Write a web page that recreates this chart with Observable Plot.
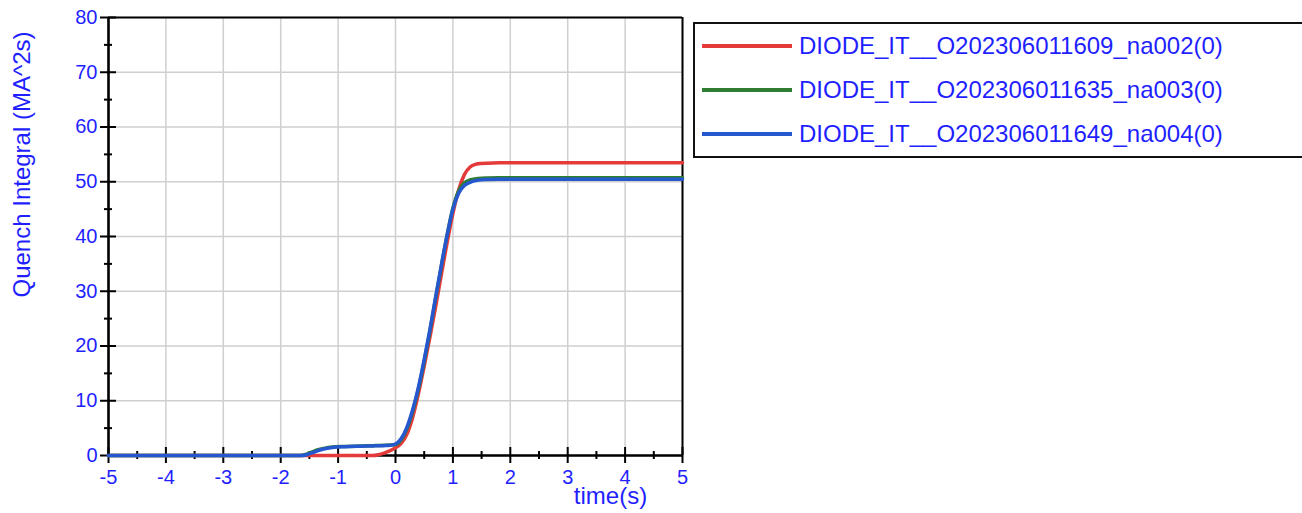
<!DOCTYPE html>
<html>
<head>
<meta charset="utf-8">
<script src="https://cdn.jsdelivr.net/npm/d3@7"></script>
<script src="https://cdn.jsdelivr.net/npm/@observablehq/plot@0.6"></script>
<style>
  html, body { margin: 0; padding: 0; background: #fff; width: 1302px; height: 513px; overflow: hidden; }
  #chart { position: relative; width: 1302px; height: 513px; font-family: "Liberation Sans", Arial, sans-serif; }
  .legend {
    position: absolute; left: 693px; top: 22px; width: 640px;
    border: 2px solid #111; background: #fff;
  }
  .legend .row { display: flex; align-items: center; height: 44px; }
  .legend .swatch { width: 90px; height: 4px; margin-left: 7px; margin-right: 7px; }
  .legend .name { font-size: 24px; color: #1f1fff; white-space: nowrap; }
</style>
</head>
<body>
<div id="chart"></div>
<script>
// Quench integral traces of the three diode runs
const time  = [-5, -1.65, -1.55, -1.45, -1.35, -1.25, -1.1, -0.9, -0.6, -0.4, -0.3, -0.2, -0.1, 0, 0.1, 0.2, 0.3, 0.4, 0.5, 0.6, 0.7, 0.8, 0.9, 1.0, 1.1, 1.2, 1.3, 1.4, 1.5, 1.6, 1.8, 2.0, 5];
const na002 = [0, 0, 0, 0, 0, 0, 0, 0, 0, 0, 0.15, 0.45, 0.85, 1.4, 2.2, 3.9, 7.0, 11.3, 16.3, 21.6, 27.2, 33.1, 38.9, 44.2, 48.5, 51.3, 52.7, 53.2, 53.35, 53.4, 53.45, 53.45, 53.45];
const na003 = [0, 0, 0.25, 0.65, 1.05, 1.3, 1.55, 1.65, 1.75, 1.8, 1.82, 1.85, 1.9, 2.0, 2.9, 4.9, 8.1, 12.2, 17.2, 22.8, 28.8, 34.7, 40.3, 45.2, 48.3, 49.8, 50.35, 50.55, 50.65, 50.7, 50.75, 50.75, 50.75];
const na004 = [0, 0, 0.15, 0.5, 0.9, 1.2, 1.45, 1.6, 1.7, 1.75, 1.78, 1.8, 1.85, 2.1, 3.1, 5.2, 8.4, 12.5, 17.5, 23.0, 29.0, 34.8, 40.3, 45.0, 47.9, 49.3, 49.9, 50.2, 50.35, 50.4, 50.45, 50.45, 50.45];

const seriesNames  = ["DIODE_IT__O202306011609_na002(0)", "DIODE_IT__O202306011635_na003(0)", "DIODE_IT__O202306011649_na004(0)"];
const seriesValues = [na002, na003, na004];
const seriesColors = ["#e53a3a", "#2e7d32", "#2557cf"];

const xDomain = [-5, 5];
const yDomain = [0, 80];
const xMajor = [-5, -4, -3, -2, -1, 0, 1, 2, 3, 4, 5];
const xMinor = [-4.5, -3.5, -2.5, -1.5, -0.5, 0.5, 1.5, 2.5, 3.5, 4.5];
const yMajor = [0, 10, 20, 30, 40, 50, 60, 70, 80];
const yMinor = [5, 15, 25, 35, 45, 55, 65, 75];

const xTitle = "time(s)";
const yTitle = "Quench Integral (MA^2s)";

const textBlue = "#1f1fff";
const fontFamily = '"Liberation Sans", Arial, sans-serif';

const rows = seriesNames.flatMap((name, s) =>
  time.map((t, i) => ({name, t, v: seriesValues[s][i]}))
);

const chart = Plot.plot({
  width: 1302,
  height: 513,
  marginLeft: 108,
  marginRight: 620,
  marginTop: 17,
  marginBottom: 58,
  style: {fontFamily, background: "#fff", overflow: "visible"},
  x: {domain: xDomain},
  y: {domain: yDomain},
  color: {domain: seriesNames, range: seriesColors},
  marks: [
    Plot.gridX(xMajor, {stroke: "#cfcfcf", strokeOpacity: 1, strokeWidth: 1.5}),
    Plot.gridY(yMajor, {stroke: "#cfcfcf", strokeOpacity: 1, strokeWidth: 1.5}),
    // frame top and right
    Plot.ruleY([yDomain[1]], {stroke: "#000", strokeWidth: 2}),
    Plot.ruleX([xDomain[1]], {stroke: "#000", strokeWidth: 2}),
    // axis lines
    Plot.ruleX([xDomain[0]], {stroke: "#000", strokeWidth: 2.6}),
    Plot.ruleY([yDomain[0]], {stroke: "#000", strokeWidth: 2.6}),
    // ticks crossing the axes
    Plot.ruleY(yMajor, {y: d => d, x1: xDomain[0], x2: xDomain[0], insetLeft: -8, insetRight: -8, stroke: "#000", strokeWidth: 2}),
    Plot.ruleY(yMinor, {y: d => d, x1: xDomain[0], x2: xDomain[0], insetLeft: -4, insetRight: -4, stroke: "#000", strokeWidth: 2}),
    Plot.ruleX(xMajor, {x: d => d, y1: yDomain[0], y2: yDomain[0], insetTop: -8, insetBottom: -8, stroke: "#000", strokeWidth: 2}),
    Plot.ruleX(xMinor, {x: d => d, y1: yDomain[0], y2: yDomain[0], insetTop: -4, insetBottom: -4, stroke: "#000", strokeWidth: 2}),
    Plot.axisX(xMajor, {tickSize: 0, tickPadding: 14, fontSize: 20, color: textBlue, label: null, tickFormat: d => String(d)}),
    Plot.axisY(yMajor, {tickSize: 0, tickPadding: 11, fontSize: 20, color: textBlue, label: null, tickFormat: d => String(d)}),
    Plot.line(rows, {x: "t", y: "v", z: "name", stroke: "name", strokeWidth: 3.5, curve: "monotone-x"}),
    Plot.text([yTitle], {frameAnchor: "left", rotate: -90, dx: -86, dy: -72, fontSize: 24, fill: textBlue, textAnchor: "middle", lineAnchor: "middle"}),
    Plot.text([xTitle], {frameAnchor: "bottom", dx: 215, dy: 41, fontSize: 24, fill: textBlue, textAnchor: "middle", lineAnchor: "middle"})
  ]
});

const root = document.getElementById("chart");
root.appendChild(chart);

// legend box
const legend = document.createElement("div");
legend.className = "legend";
seriesNames.forEach((name, s) => {
  const row = document.createElement("div");
  row.className = "row";
  const sw = document.createElement("span");
  sw.className = "swatch";
  sw.style.background = seriesColors[s];
  const label = document.createElement("span");
  label.className = "name";
  label.textContent = name;
  row.appendChild(sw);
  row.appendChild(label);
  legend.appendChild(row);
});
root.appendChild(legend);
</script>
</body>
</html>
